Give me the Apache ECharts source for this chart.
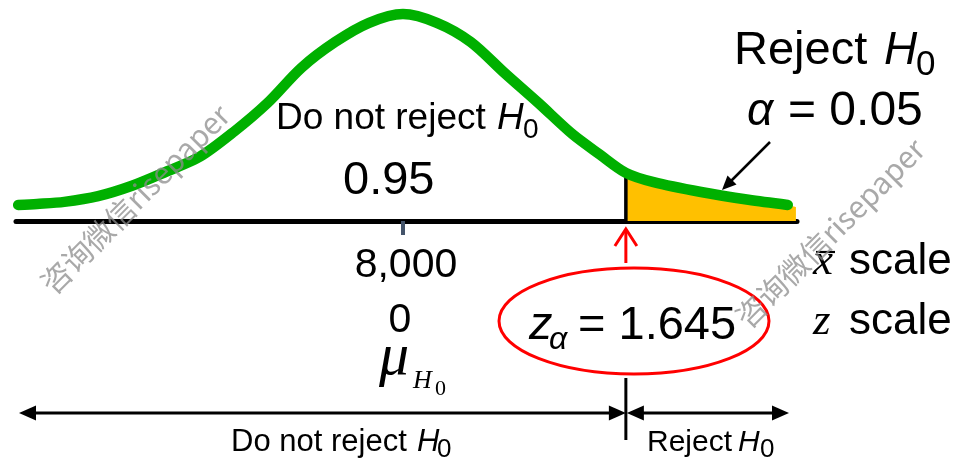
<!DOCTYPE html>
<html>
<head>
<meta charset="utf-8">
<script src="https://cdn.jsdelivr.net/npm/echarts@6/dist/echarts.min.js"></script>
<style>
  html, body { margin: 0; padding: 0; background: #ffffff; }
  #chart { width: 957px; height: 460px; }
</style>
</head>
<body>
<div id="chart"></div>
<script>
// Sampling distribution of the mean, plotted on the z scale (mean at z = 0)
const zValues = [-2.84, -2.7, -2.5, -2.25, -2.0, -1.75, -1.5, -1.25, -1.0, -0.75, -0.5, -0.25,
                 0, 0.25, 0.5, 0.75, 1.0, 1.25, 1.45, 1.645, 1.85, 2.2, 2.55, 2.84];
const curveHeight = [0.031, 0.033, 0.037, 0.048, 0.068, 0.095, 0.124, 0.172, 0.228, 0.296, 0.346, 0.383,
                     0.400, 0.383, 0.346, 0.286, 0.228, 0.168, 0.129, 0.093, 0.075, 0.056, 0.041, 0.031];
// right edge of the shaded rejection region
const tailEdgeZ = [2.9];
const tailEdgeHeight = [0.027];

const zCritical = 1.645;
const alphaText = '0.05';
const acceptText = '0.95';
const meanXbarLabel = '8,000';
const meanZLabel = '0';
const axisMin = -2.856;
const axisMax = 2.908;

const SANS = '"Liberation Sans", Arial, sans-serif';
const SERIF = '"Liberation Serif", "Times New Roman", serif';
const WATERMARK_FONT = '"Noto Sans CJK SC", "Liberation Sans", sans-serif';

const curveData = zValues.map((z, i) => [z, curveHeight[i]]);
const tailData = curveData.filter(p => p[0] >= zCritical)
  .concat(tailEdgeZ.map((z, i) => [z, tailEdgeHeight[i]]));
const critHeight = curveHeight[zValues.indexOf(zCritical)];

const chart = echarts.init(document.getElementById('chart'), null, { renderer: 'canvas' });

chart.setOption({
  animation: false,
  backgroundColor: '#ffffff',
  grid: { left: 16, right: 160, top: 14, bottom: 239, containLabel: false, outerBoundsMode: 'none' },
  xAxis: {
    type: 'value',
    min: axisMin,
    max: axisMax,
    axisLine: { show: true, onZero: true, lineStyle: { color: '#000000', width: 5 } },
    axisTick: {
      show: true,
      customValues: [0],
      length: 14,
      lineStyle: { color: '#44546a', width: 4 }
    },
    axisLabel: {
      show: true,
      customValues: [0],
      formatter: () => '{a|' + meanXbarLabel + '}\n{b|' + meanZLabel + '}',
      margin: 17,
      rich: {
        a: { fontFamily: SANS, fontSize: 41, lineHeight: 55, color: '#000000', padding: [0, 0, 0, 6] },
        b: { fontFamily: SANS, fontSize: 41, lineHeight: 55, color: '#000000', padding: [0, 6, 0, 0] }
      }
    },
    splitLine: { show: false }
  },
  yAxis: {
    type: 'value',
    min: 0,
    max: 0.4,
    show: false,
    splitLine: { show: false }
  },
  series: [
    {
      name: 'rejection region',
      type: 'line',
      data: tailData,
      smooth: 0.3,
      symbol: 'none',
      silent: true,
      lineStyle: { width: 0 },
      areaStyle: { color: '#ffc000', opacity: 1 },
      z: 1
    },
    {
      name: 'critical value',
      type: 'line',
      data: [[zCritical, 0], [zCritical, critHeight]],
      symbol: 'none',
      silent: true,
      lineStyle: { color: '#000000', width: 3.5 },
      z: 3
    },
    {
      name: 'distribution',
      type: 'line',
      data: curveData,
      smooth: 0.3,
      symbol: 'none',
      silent: true,
      clip: false,
      lineStyle: { color: '#00b000', width: 10.5, cap: 'round', join: 'round' },
      z: 4
    }
  ]
});

// text helpers: place by alphabetic baseline
function sans(text, x, baseline, size, italic) {
  return {
    type: 'text', x: x, y: baseline - 0.3465 * size, z: 10, silent: true,
    style: {
      text: text, fontFamily: SANS, fontSize: size, fontStyle: italic ? 'italic' : 'normal',
      fill: '#000000', align: 'left', verticalAlign: 'middle'
    }
  };
}
function serif(text, x, baseline, size, italic) {
  return {
    type: 'text', x: x, y: baseline - 0.3375 * size, z: 10, silent: true,
    style: {
      text: text, fontFamily: SERIF, fontSize: size, fontStyle: italic ? 'italic' : 'normal',
      fill: '#000000', align: 'left', verticalAlign: 'middle'
    }
  };
}
function seg(x1, y1, x2, y2, color, width) {
  return {
    type: 'line', z: 10, silent: true,
    shape: { x1: x1, y1: y1, x2: x2, y2: y2 },
    style: { stroke: color, lineWidth: width, lineCap: 'butt' }
  };
}
function head(points, color) {
  return { type: 'polygon', z: 10, silent: true, shape: { points: points }, style: { fill: color } };
}
function watermark(cx, cy) {
  return {
    type: 'text', x: cx, y: cy, rotation: Math.PI / 4, z: 20, silent: true,
    style: {
      text: '咨询微信risepaper', fontFamily: WATERMARK_FONT, fontSize: 30,
      fill: 'rgba(140,140,140,0.75)', align: 'center', verticalAlign: 'middle'
    }
  };
}

const cx = chart.convertToPixel({ xAxisIndex: 0 }, zCritical);
const RED = '#ff0000';
const arrowY = 413;

chart.setOption({
  graphic: { elements: [
    // labels inside the curve
    sans('Do not reject ', 276, 132, 37),
    sans('H', 497, 132, 37, true),
    sans('0', 523, 140, 28),
    sans(acceptText, 343, 197, 47),

    // rejection region caption
    sans('Reject ', 734, 67, 47),
    sans('H', 884, 67, 46, true),
    sans('0', 916, 77, 35),
    sans('α', 747, 128, 46, true),
    sans('= ' + alphaText, 788, 128, 48),
    seg(770, 142, 730, 182, '#000000', 2.5),
    head([[722, 190], [736.5, 184.5], [727.5, 175.5]], '#000000'),

    // mean symbol
    serif('μ', 379, 378, 60, true),
    serif('H', 413, 390, 26, true),
    serif('0', 435, 397, 22),

    // critical value callout
    seg(cx, 263, cx, 231, RED, 3),
    { type: 'polyline', z: 10, silent: true,
      shape: { points: [[cx - 11, 246], [cx, 229], [cx + 11, 246]] },
      style: { stroke: RED, lineWidth: 3, fill: null, lineJoin: 'miter' } },
    { type: 'ellipse', z: 10, silent: true,
      shape: { cx: 634, cy: 321, rx: 135, ry: 53 },
      style: { fill: null, stroke: RED, lineWidth: 3 } },
    sans('z', 529, 342, 47, true),
    sans('α', 549, 351, 32, true),
    sans('= ' + zCritical, 578, 342, 47),

    // scale names
    serif('x', 813, 277, 45, true),
    seg(816, 252, 835, 252, '#000000', 2.2),
    sans('scale', 849, 277, 44),
    serif('z', 813, 337, 45, true),
    sans('scale', 849, 337, 44),

    // decision regions along the bottom
    seg(cx, 378, cx, 440, '#000000', 3),
    seg(34, arrowY, cx - 14, arrowY, '#000000', 3),
    head([[19, arrowY], [36, arrowY - 7.5], [36, arrowY + 7.5]], '#000000'),
    head([[cx, arrowY], [cx - 17, arrowY - 7.5], [cx - 17, arrowY + 7.5]], '#000000'),
    seg(cx + 14, arrowY, 775, arrowY, '#000000', 3),
    head([[cx + 1, arrowY], [cx + 18, arrowY - 7.5], [cx + 18, arrowY + 7.5]], '#000000'),
    head([[789, arrowY], [772, arrowY - 7.5], [772, arrowY + 7.5]], '#000000'),
    sans('Do not reject ', 231, 453, 31),
    sans('H', 417, 453, 31, true),
    sans('0', 437, 459, 26),
    sans('Reject ', 647, 453, 30),
    sans('H', 738, 453, 30, true),
    sans('0', 760, 459, 26),

    watermark(135, 199),
    watermark(830, 233)
  ] }
});
</script>
</body>
</html>
